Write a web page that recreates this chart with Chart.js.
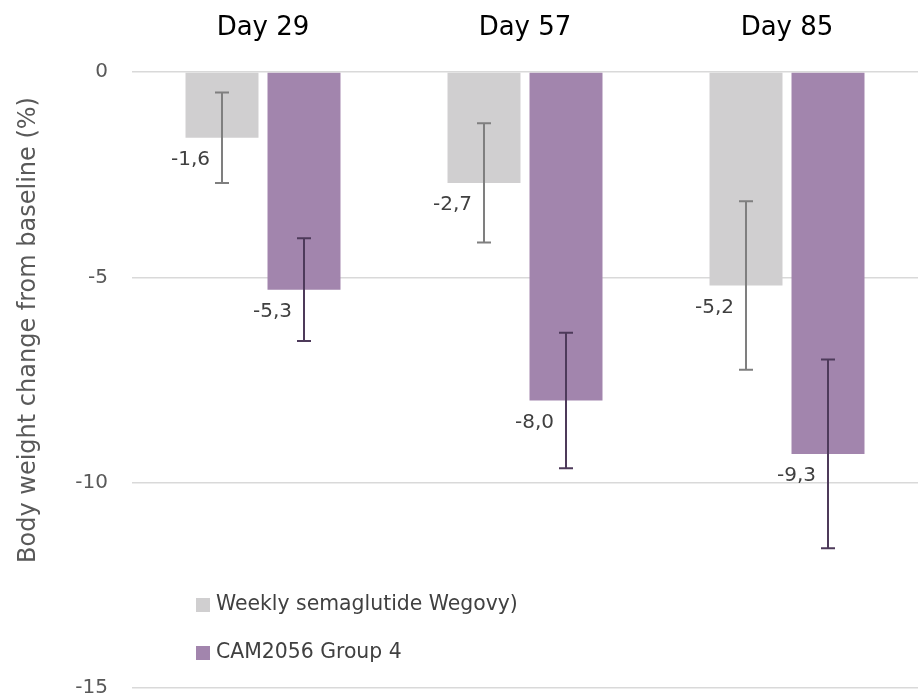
<!DOCTYPE html>
<html>
<head>
<meta charset="utf-8">
<script src="https://cdn.jsdelivr.net/npm/chart.js@4.4.1/dist/chart.umd.min.js"></script>
<style>
  html, body { margin: 0; padding: 0; background: #fff; }
  #wrap { width: 918px; height: 700px; position: relative; }
</style>
</head>
<body>
<div id="wrap"><canvas id="chart"></canvas></div>
<script>
// data
const categories = ['Day 29', 'Day 57', 'Day 85'];
const semaglutide = [-1.6, -2.7, -5.2];
const cam2056 = [-5.3, -8.0, -9.3];
const semaglutideErr = [1.1, 1.45, 2.05];
const cam2056Err = [1.25, 1.65, 2.3];
const yTicks = [0, -5, -10, -15];
const seriesNames = ['Weekly semaglutide Wegovy)', 'CAM2056 Group 4'];

const FONT = "'DejaVu Sans', sans-serif";
const errors = [semaglutideErr, cam2056Err];
const errColors = ['#7f7f7f', '#4d3a5a'];

function fmt(v) {
  return v.toFixed(1).replace('.', ',');
}

// error bars + value labels
const annotate = {
  id: 'annotate',
  afterDatasetsDraw(chart) {
    const { ctx } = chart;
    const y = chart.scales.y;
    chart.data.datasets.forEach((ds, i) => {
      const meta = chart.getDatasetMeta(i);
      meta.data.forEach((bar, j) => {
        const v = ds.data[j];
        const e = errors[i][j];
        const yTop = y.getPixelForValue(v + e);
        const yBot = y.getPixelForValue(v - e);
        ctx.save();
        ctx.strokeStyle = errColors[i];
        ctx.lineWidth = 2;
        ctx.beginPath();
        ctx.moveTo(bar.x, yTop); ctx.lineTo(bar.x, yBot);
        ctx.moveTo(bar.x - 7, yTop); ctx.lineTo(bar.x + 7, yTop);
        ctx.moveTo(bar.x - 7, yBot); ctx.lineTo(bar.x + 7, yBot);
        ctx.stroke();

        ctx.fillStyle = '#404040';
        ctx.font = '20px ' + FONT;
        ctx.textAlign = 'right';
        ctx.textBaseline = 'middle';
        ctx.fillText(fmt(v), bar.x - 12, y.getPixelForValue(v) + 22);
        ctx.restore();
      });
    });
  },
  afterDraw(chart) {
    const { ctx } = chart;
    // y axis title
    ctx.save();
    ctx.fillStyle = '#595959';
    ctx.font = '24px ' + FONT;
    ctx.translate(29, 330);
    ctx.rotate(-Math.PI / 2);
    ctx.textAlign = 'center';
    ctx.textBaseline = 'middle';
    ctx.fillText('Body weight change from baseline (%)', 0, 0);
    ctx.restore();

    // legend inside the plot, lower left
    const legendY = [605, 653];
    chart.data.datasets.forEach((ds, i) => {
      ctx.save();
      ctx.fillStyle = ds.backgroundColor;
      ctx.fillRect(196, legendY[i] - 7, 14, 14);
      ctx.fillStyle = '#404040';
      ctx.font = '20.4px ' + FONT;
      ctx.textAlign = 'left';
      ctx.textBaseline = 'middle';
      ctx.fillText(ds.label, 216, legendY[i]);
      ctx.restore();
    });
  }
};

new Chart(document.getElementById('chart'), {
  type: 'bar',
  data: {
    labels: categories,
    datasets: [
      { label: seriesNames[0], data: semaglutide, backgroundColor: '#d0cfd0' },
      { label: seriesNames[1], data: cam2056, backgroundColor: '#a285ad' }
    ]
  },
  options: {
    responsive: true,
    maintainAspectRatio: false,
    animation: false,
    barPercentage: 0.89,
    categoryPercentage: 0.626,
    layout: { padding: 0 },
    plugins: {
      legend: { display: false },
      tooltip: { enabled: false }
    },
    scales: {
      x: {
        position: 'top',
        grid: { display: false },
        border: { display: false },
        ticks: { color: '#000', font: { family: FONT, size: 26 }, padding: 20 },
        afterFit: (s) => { s.height = 72; }
      },
      y: {
        min: -15,
        max: 0,
        afterBuildTicks: (s) => { s.ticks = yTicks.map(v => ({ value: v })); },
        // invisible tick marks give the gap between labels and grid
        grid: { color: '#d9d9d9', lineWidth: 1.5, drawTicks: true, tickLength: 24, tickColor: 'rgba(0,0,0,0)' },
        border: { display: false },
        ticks: { color: '#595959', font: { family: FONT, size: 20 }, padding: 0 },
        afterFit: (s) => { s.width = 132; }
      }
    }
  },
  plugins: [annotate]
});
</script>
</body>
</html>
